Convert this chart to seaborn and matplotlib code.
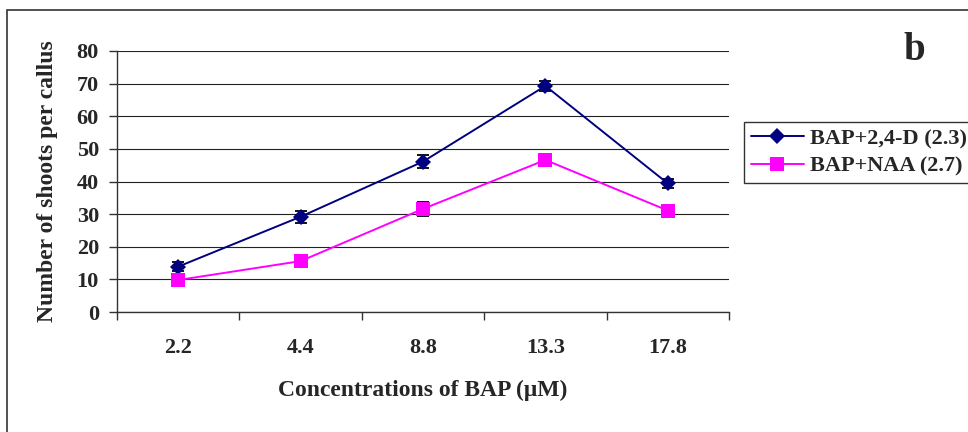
import matplotlib
matplotlib.use("Agg")
import matplotlib.pyplot as plt
from matplotlib.patches import Rectangle
import numpy as np
import pandas as pd
import seaborn as sns

concentrations = ["2.2", "4.4", "8.8", "13.3", "17.8"]
series_names = ["BAP+2,4-D (2.3)", "BAP+NAA (2.7)"]
bap_24d = [13.9, 29.2, 46.1, 69.3, 39.4]
bap_24d_err = [1.4, 1.8, 1.9, 1.6, 1.4]
bap_naa = [9.8, 15.6, 31.6, 46.6, 31.1]
bap_naa_err = [1.5, 1.5, 2.1, 1.6, 1.8]

colors = {series_names[0]: "#000080", series_names[1]: "#FF00FF"}
markers = {series_names[0]: "D", series_names[1]: "s"}

pos = np.arange(len(concentrations))
df = pd.DataFrame({
    "pos": np.concatenate([pos, pos]),
    "value": bap_24d + bap_naa,
    "series": [series_names[0]] * len(pos) + [series_names[1]] * len(pos),
})

sns.set_style("white")
plt.rcParams["font.family"] = ["Liberation Serif", "DejaVu Serif"]
plt.rcParams["font.weight"] = "bold"

fig = plt.figure(figsize=(9.68, 4.32), dpi=100)
ax = fig.add_axes([117 / 968, 1 - 312 / 432, 612 / 968, 261 / 432])

# error bars under the markers
for name, vals, errs in [(series_names[0], bap_24d, bap_24d_err),
                         (series_names[1], bap_naa, bap_naa_err)]:
    ax.errorbar(pos, vals, yerr=errs, fmt="none", ecolor="black",
                elinewidth=1.3, capsize=4.5, capthick=1.3, zorder=3)

sns.lineplot(data=df, x="pos", y="value", hue="series", style="series",
             palette=colors, markers=markers, dashes=False, linewidth=1.4,
             markersize=8.5, markeredgewidth=0, ax=ax, zorder=4)
for ln in ax.lines:
    if ln.get_marker() == "s":
        ln.set_markersize(10.5)

ax.set_xlim(-0.5, len(pos) - 0.5)
ax.set_ylim(0, 80)
ax.set_yticks(np.arange(0, 81, 10))
ax.set_xticks(pos)
ax.set_xticklabels(concentrations)
ax.set_xticks(np.arange(-0.5, len(pos), 1), minor=True)
ax.tick_params(axis="x", which="major", length=0, pad=19, labelsize=16)
ax.tick_params(axis="x", which="minor", length=6, width=1, color="#333333",
               direction="out", bottom=True)
ax.tick_params(axis="y", length=6, width=1, color="#333333", direction="out",
               left=True, pad=7, labelsize=16)
ax.yaxis.grid(True, color="#222222", linewidth=0.8)
ax.set_axisbelow(True)
for side in ["top", "right"]:
    ax.spines[side].set_visible(False)
for side in ["left", "bottom"]:
    ax.spines[side].set_color("#333333")
    ax.spines[side].set_linewidth(1)

ax.set_xlabel("Concentrations of BAP (μM)", fontsize=17, fontweight="bold")
ax.set_ylabel("Number of shoots per callus", fontsize=17, fontweight="bold")
ax.xaxis.set_label_coords(0.5, -0.26)
ax.yaxis.set_label_coords(-0.096, 0.5)

ax.legend(loc="upper left", bbox_to_anchor=(744 / 968, 1 - 122 / 432),
          bbox_transform=fig.transFigure, borderaxespad=0, fancybox=False,
          edgecolor="#333333", framealpha=1, title=None,
          prop={"size": 16, "weight": "bold"}, handlelength=2.4,
          handletextpad=0.25, borderpad=0.3, labelspacing=0.3)
ax.get_legend().get_frame().set_linewidth(1)

fig.text(914 / 968, 1 - 60 / 432, "b", ha="center", va="baseline",
         fontsize=28, fontweight="bold")

fig.patches.append(Rectangle((7 / 968, -0.2), 1.2, 1.2 - 10 / 432,
                             transform=fig.transFigure, fill=False,
                             edgecolor="#333333", linewidth=1.2))

fig.savefig("out.png", dpi=100)
